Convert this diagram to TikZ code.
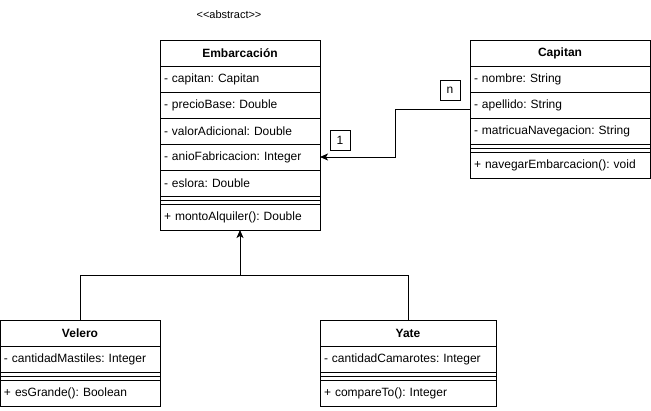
\documentclass[tikz,border=0pt]{standalone}
\usepackage{fontspec}
\setmainfont{Liberation Sans}
\usetikzlibrary{arrows.meta}
\frenchspacing
\begin{document}
\begin{tikzpicture}[x=1pt,y=-1pt,line width=1pt,
  hdr/.style={draw, minimum height=26pt, inner sep=0pt, outer sep=0pt, anchor=north west,
    font=\bfseries\fontsize{12}{14}\selectfont},
  row/.style={draw, minimum height=26pt, inner xsep=4pt, inner ysep=0pt, outer sep=0pt,
    anchor=north west, align=left, font=\fontsize{12}{14}\selectfont},
  divider/.style={draw, minimum height=8pt, inner sep=0pt, outer sep=0pt, anchor=north west,
    path picture={\draw[line width=1pt] (path picture bounding box.west) -- (path picture bounding box.east);}},
  lbl/.style={draw, minimum width=20pt, minimum height=20pt, inner sep=0pt, outer sep=0pt,
    font=\fontsize{12}{14}\selectfont},
  tip/.style={-{Stealth[length=8pt,width=7pt,inset=2pt]}}
]
\useasboundingbox (0,0) rectangle (651,410);

\node[font=\fontsize{11}{13}\selectfont] (abs) at (229,15) {<\kern0pt<abstract>\kern0pt>};

% Embarcacion
\node[hdr, minimum width=160pt] (emb) at (160,40) {Embarcación};
\node[row, text width=152pt] (emb1) at (160,66) {- capitan: Capitan};
\node[row, text width=152pt] (emb2) at (160,92) {- precioBase: Double};
\node[row, text width=152pt] (emb3) at (160,118) {- valorAdicional: Double};
\node[row, text width=152pt] (emb4) at (160,144) {- anioFabricacion: Integer};
\node[row, text width=152pt] (emb5) at (160,170) {- eslora: Double};
\node[divider, minimum width=160pt] (embd) at (160,196) {};
\node[row, text width=152pt] (embm) at (160,204) {+ montoAlquiler(): Double};

% Capitan
\node[hdr, minimum width=180pt] (cap) at (470,40) {Capitan};
\node[row, text width=172pt] (cap1) at (470,66) {- nombre: String};
\node[row, text width=172pt] (cap2) at (470,92) {- apellido: String};
\node[row, text width=172pt] (cap3) at (470,118) {- matricuaNavegacion: String};
\node[divider, minimum width=180pt] (capd) at (470,144) {};
\node[row, text width=172pt] (capm) at (470,152) {+ navegarEmbarcacion(): void};

% Velero
\node[hdr, minimum width=160pt] (vel) at (0,320) {Velero};
\node[row, text width=152pt] (vel1) at (0,346) {- cantidadMastiles: Integer};
\node[divider, minimum width=160pt] (veld) at (0,372) {};
\node[row, text width=152pt] (velm) at (0,380) {+ esGrande(): Boolean};

% Yate
\node[hdr, minimum width=176pt] (yat) at (320,320) {Yate};
\node[row, text width=168pt] (yat1) at (320,346) {- cantidadCamarotes: Integer};
\node[divider, minimum width=176pt] (yatd) at (320,372) {};
\node[row, text width=168pt] (yatm) at (320,380) {+ compareTo(): Integer};

% association
\coordinate (bend) at (395,109);
\draw[tip] (cap2.west |- bend) -- (bend) |- (emb4.east);
\node[lbl] (ln) at (450,90) {n};
\node[lbl] (l1) at (340,140) {1};

% inheritance
\coordinate (join) at (240,275);
\draw (vel.north) -- (vel.north |- join) -- (yat.north |- join) -- (yat.north);
\draw[tip] (join) -- (embm.south);
\end{tikzpicture}
\end{document}
